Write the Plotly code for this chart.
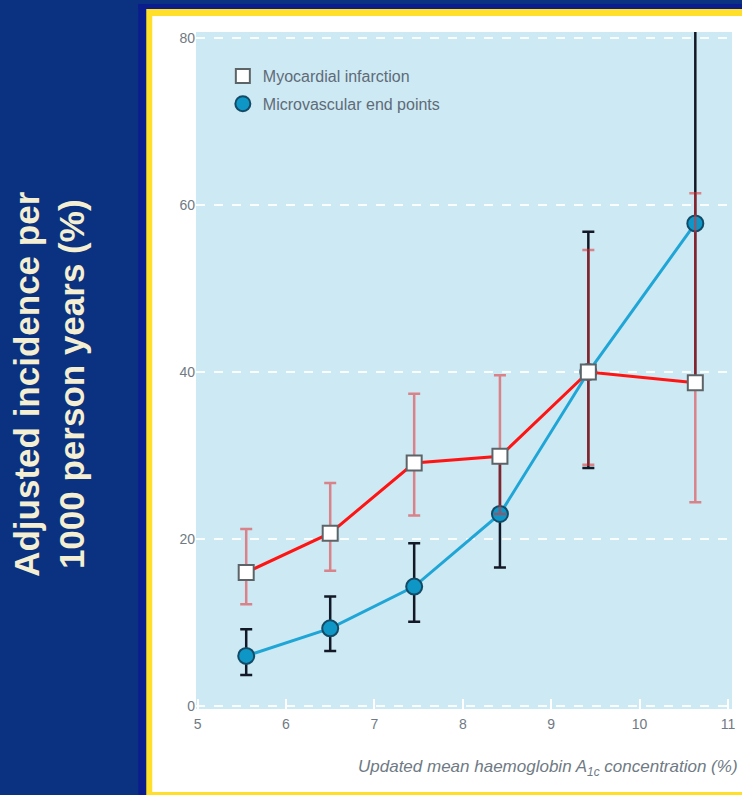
import plotly.graph_objects as go

# ---------------- data ----------------
hba1c = [5.55, 6.5, 7.45, 8.42, 9.42, 10.63]

mi_values = [16.0, 20.7, 29.1, 29.9, 40.0, 38.7]
mi_upper = [21.2, 26.7, 37.4, 39.6, 54.6, 61.4]
mi_lower = [12.2, 16.2, 22.8, 23.0, 28.9, 24.4]

micro_values = [6.0, 9.3, 14.3, 23.0, 40.0, 57.8]
micro_upper = [9.2, 13.1, 19.5, 30.5, 56.8, 95.0]
micro_lower = [3.7, 6.6, 10.1, 16.6, 28.5, 39.0]

y_ticks = [0, 20, 40, 60, 80]
x_ticks = [5, 6, 7, 8, 9, 10, 11]

series_names = ["Myocardial infarction", "Microvascular end points"]
y_title_lines = ["Adjusted incidence per", "1000 person years (%)"]
x_title = "Updated mean haemoglobin A<sub>1c</sub> concentration (%)"

# ---------------- layout helpers ----------------
W, H = 742, 795
L, R, T, B = 196, 7, 32, 86
PW, PH = W - L - R, H - T - B
NAVY = "#0b3280"


def px(x):
    return (x - L) / PW


def py(y):
    return (H - B - y) / PH


def plus(v, hi):
    return [h - c for c, h in zip(v, hi)]


def minus(v, lo):
    return [c - l for c, l in zip(v, lo)]


fig = go.Figure()

# microvascular (drawn first, underneath)
fig.add_trace(go.Scatter(
    x=hba1c, y=micro_values, mode="lines+markers", showlegend=False,
    line=dict(color="#1fa6d6", width=3),
    marker=dict(symbol="circle", size=16, color="#0e97c6",
                line=dict(color="#134a66", width=2)),
    error_y=dict(type="data", symmetric=False,
                 array=plus(micro_values, micro_upper),
                 arrayminus=minus(micro_values, micro_lower),
                 color="#121826", thickness=2.5, width=6),
))

# myocardial infarction
fig.add_trace(go.Scatter(
    x=hba1c, y=mi_values, mode="lines+markers", showlegend=False,
    line=dict(color="#ff1414", width=3),
    marker=dict(symbol="square", size=15, color="white",
                line=dict(color="#5d6468", width=2)),
    error_y=dict(type="data", symmetric=False,
                 array=plus(mi_values, mi_upper),
                 arrayminus=minus(mi_values, mi_lower),
                 color="rgba(228,45,50,0.55)", thickness=2.5, width=6),
))

# legend-only entries (marker only)
fig.add_trace(go.Scatter(
    x=[None], y=[None], mode="markers", name=series_names[0],
    legendgroup="a",
    marker=dict(symbol="square", size=14, color="white",
                line=dict(color="#5d6468", width=2)),
))
fig.add_trace(go.Scatter(
    x=[None], y=[None], mode="markers", name=series_names[1],
    legendgroup="b",
    marker=dict(symbol="circle", size=15, color="#0e97c6",
                line=dict(color="#134a66", width=2)),
))

shapes = [
    # dark band left of panel
    dict(type="rect", xref="paper", yref="paper", layer="below",
         x0=px(138), x1=px(146), y0=py(800), y1=py(4),
         fillcolor="#0b1c8c", line=dict(width=0)),
    dict(type="rect", xref="paper", yref="paper", layer="below",
         x0=px(138), x1=px(760), y0=py(9), y1=py(4),
         fillcolor="#0b1c8c", line=dict(width=0)),
    # yellow frame
    dict(type="rect", xref="paper", yref="paper", layer="below",
         x0=px(146), x1=px(760), y0=py(800), y1=py(9),
         fillcolor="#ffdf2a", line=dict(width=0)),
    # white panel
    dict(type="rect", xref="paper", yref="paper", layer="below",
         x0=px(152), x1=px(760), y0=py(792), y1=py(16),
         fillcolor="white", line=dict(width=0)),
    # light-blue plotting area
    dict(type="rect", xref="paper", yref="paper", layer="below",
         x0=0, x1=1, y0=0, y1=1,
         fillcolor="#cde9f3", line=dict(width=0)),
]

annotations = [
    dict(text="<b>" + "<br>".join(y_title_lines) + "</b>",
         xref="paper", yref="paper", x=px(49), y=py(384),
         xanchor="center", yanchor="middle", textangle=-90, showarrow=False,
         font=dict(family="Liberation Sans, Arial, sans-serif", size=35,
                   color="#f4efd2")),
    dict(text="<i>" + x_title + "</i>",
         xref="paper", yref="paper", x=px(357), y=py(768),
         xanchor="left", yanchor="middle", showarrow=False,
         font=dict(family="Liberation Sans, Arial, sans-serif", size=17,
                   color="#6f7a84")),
]

fig.update_layout(
    width=W, height=H,
    margin=dict(l=L, r=R, t=T, b=B, pad=0),
    paper_bgcolor=NAVY,
    plot_bgcolor="rgba(0,0,0,0)",
    shapes=shapes,
    annotations=annotations,
    showlegend=True,
    legend=dict(x=px(223), y=py(59), xanchor="left", yanchor="top",
                bgcolor="rgba(0,0,0,0)", borderwidth=0,
                font=dict(family="Liberation Sans, Arial, sans-serif",
                          size=16, color="#5f6b78"),
                tracegroupgap=4, traceorder="grouped"),
    font=dict(family="Liberation Sans, Arial, sans-serif", color="#6f7a84"),
)

fig.update_xaxes(
    range=[4.982, 11.045], tickvals=x_ticks, showgrid=False, zeroline=False,
    ticks="inside", ticklen=10, tickcolor="white", tickwidth=2,
    ticklabelstandoff=5,
    tickfont=dict(size=14, color="#6f7a84"), showline=False,
)
fig.update_yaxes(
    range=[-0.36, 80.72], tickvals=y_ticks, zeroline=False,
    showgrid=True, gridcolor="rgba(255,255,255,0.9)", gridwidth=1.5,
    griddash="dash", ticks="", tickfont=dict(size=14, color="#6f7a84"),
    showline=False,
)

fig.write_html(
    "out.html",
    config={"displayModeBar": False},
    post_script="document.body.style.margin='0';"
                "document.body.style.background='" + NAVY + "';"
                "document.body.style.overflow='hidden';",
)
